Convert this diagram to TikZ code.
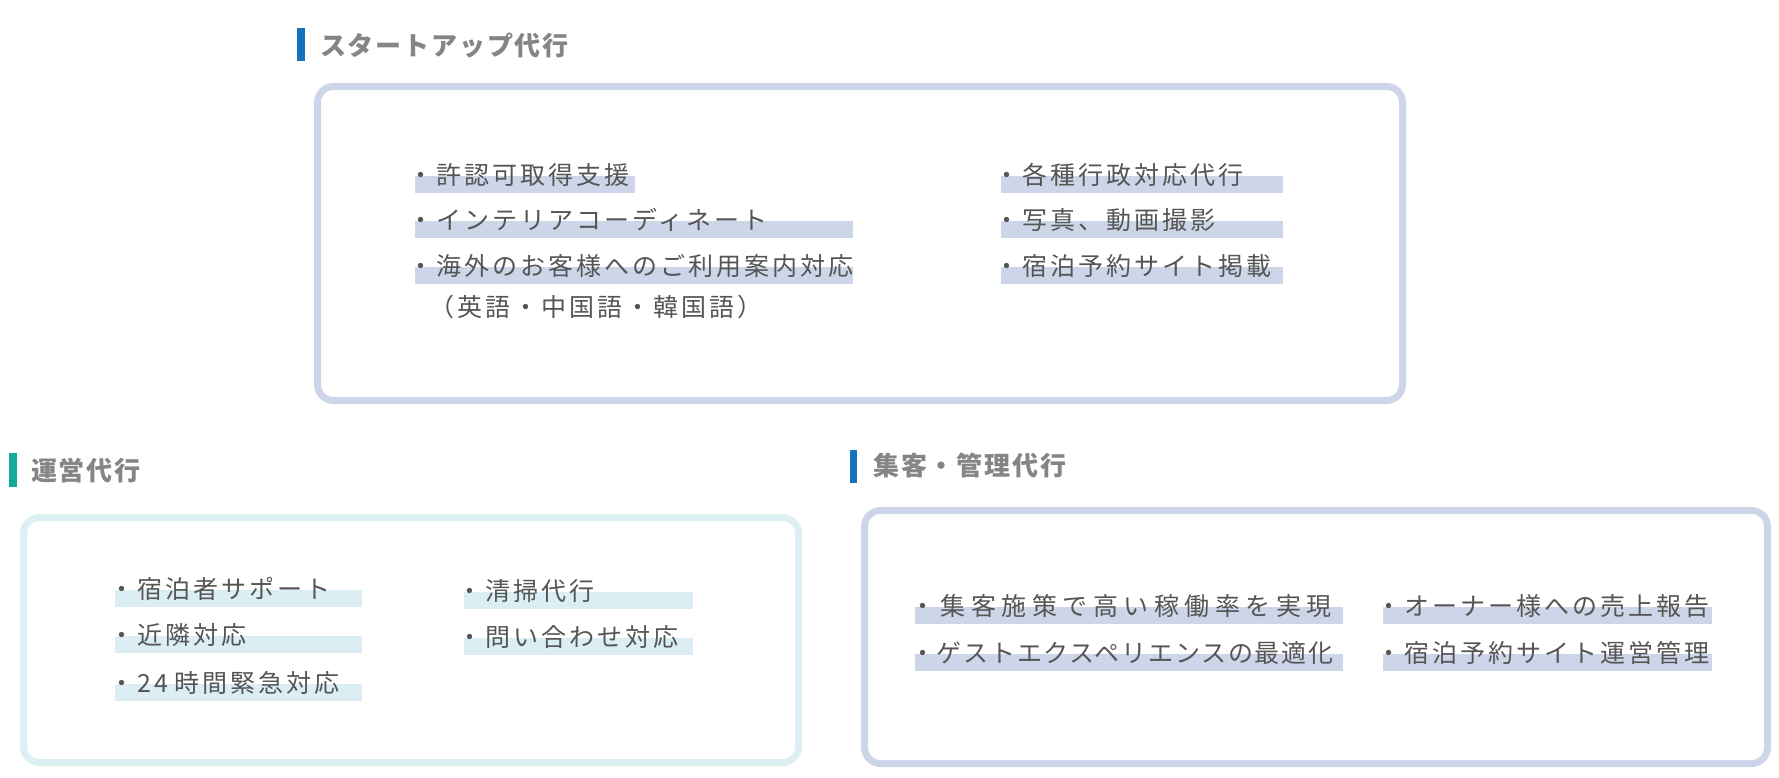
\documentclass[tikz,border=0pt]{standalone}
\usepackage{fontspec}
\usepackage{xcolor}
\usepackage{tikz}

\newfontfamily\jphead[LetterSpace=7]{Noto Sans CJK JP}
\newfontfamily\jpbody[LetterSpace=12]{Noto Sans CJK JP}
\newfontfamily\jpwide[LetterSpace=22]{Noto Sans CJK JP}
\newfontfamily\jpnarrow[LetterSpace=7]{Noto Sans CJK JP}

\definecolor{frameblue}{HTML}{CDD6E8}
\definecolor{framecyan}{HTML}{DCEFF3}
\definecolor{barcyan}{HTML}{DAEEF4}
\definecolor{markblue}{HTML}{1572BA}
\definecolor{markteal}{HTML}{14A99B}
\definecolor{headgray}{HTML}{858585}
\definecolor{bodygray}{HTML}{555555}

\begin{document}
\begin{tikzpicture}[x=1pt, y=-1pt,
        frame/.style={line width=7pt, rounded corners=16pt},
        heading/.style={anchor=west, inner sep=0pt, text=headgray,
                        font=\jphead\bfseries\fontsize{26}{30}\selectfont},
        item/.style={anchor=base west, inner sep=0pt, text=bodygray,
                     font=\jpbody\fontsize{25}{29}\selectfont}
    ]
        \useasboundingbox (0,0) rectangle (1779,777);

        % headings
        \fill[markblue] (297,28) rectangle (305,61);
        \node[heading] (hstart) at (320,45.5) {スタートアップ代行};
        \fill[markteal] (9,453) rectangle (17,487);
        \node[heading] (hops) at (31,470.5) {運営代行};
        \fill[markblue] (850,450) rectangle (857,483);
        \node[heading] (hmgmt) at (873,465.5) {集客・管理代行};

        % frames
        \draw[frame, frameblue] (317.5,86.5) rectangle (1402.5,400.5);
        \draw[frame, framecyan] (23.5,517.5) rectangle (798.5,762.5);
        \draw[frame, frameblue] (864.5,510.5) rectangle (1767.5,763.5);

        % startup
        \fill[frameblue] (415,176) rectangle (635,193);
        \fill[frameblue] (415,221) rectangle (853,238);
        \fill[frameblue] (415,267) rectangle (853,284);
        \fill[frameblue] (1001,176) rectangle (1283,193);
        \fill[frameblue] (1001,221) rectangle (1283,238);
        \fill[frameblue] (1001,267) rectangle (1283,284);
        \node[item] (s1) at (408,184) {・許認可取得支援};
        \node[item] (s2) at (408,229) {・インテリアコーディネート};
        \node[item] (s3) at (408,275) {・海外のお客様へのご利用案内対応};
        \node[item] (s4) at (429,316) {（英語・中国語・韓国語）};
        \node[item] (s5) at (994,184) {・各種行政対応代行};
        \node[item] (s6) at (994,229) {・写真、動画撮影};
        \node[item] (s7) at (994,275) {・宿泊予約サイト掲載};

        % operations
        \fill[barcyan] (115,590) rectangle (362,607);
        \fill[barcyan] (115,636) rectangle (362,653);
        \fill[barcyan] (115,684) rectangle (362,701);
        \fill[barcyan] (464,592) rectangle (693,609);
        \fill[barcyan] (464,638) rectangle (693,655);
        \node[item] (u1) at (109,598) {・宿泊者サポート};
        \node[item] (u2) at (109,644) {・近隣対応};
        \node[item] (u3) at (109,692) {・24\hspace{7pt}時間緊急対応};
        \node[item] (u4) at (457,600) {・清掃代行};
        \node[item] (u5) at (457,646) {・問い合わせ対応};

        % marketing / management
        \fill[frameblue] (915,607) rectangle (1343,624);
        \fill[frameblue] (915,654) rectangle (1343,671);
        \fill[frameblue] (1383,607) rectangle (1712,624);
        \fill[frameblue] (1383,654) rectangle (1712,671);
        \node[item, font=\jpwide\fontsize{25}{29}\selectfont] (k1) at (910,615) {・集客施策で高い稼働率を実現};
        \node[item, font=\jpnarrow\fontsize{25}{29}\selectfont] (k2) at (910,662) {・ゲストエクスペリエンスの最適化};
        \node[item] (k3) at (1376,615) {・オーナー様への売上報告};
        \node[item] (k4) at (1376,662) {・宿泊予約サイト運営管理};
    \end{tikzpicture}
\end{document}
